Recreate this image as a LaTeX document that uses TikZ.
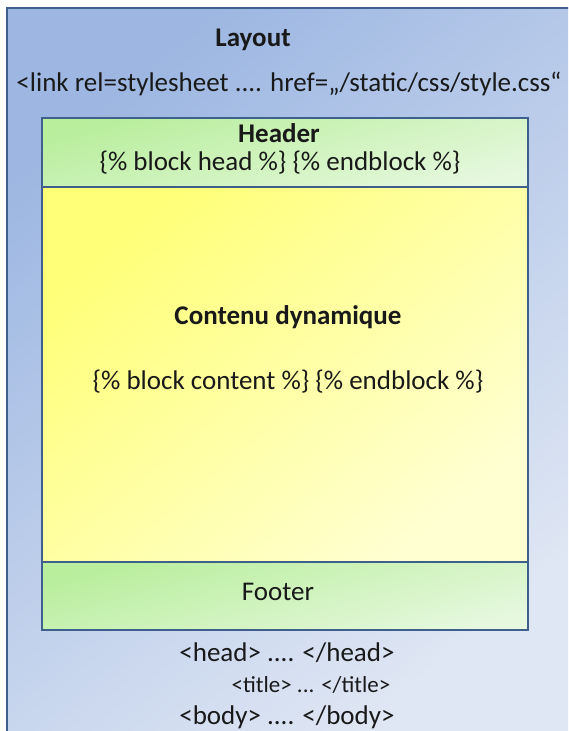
\documentclass[tikz,border=0pt]{standalone}
\usepackage{fontspec}
\setmainfont{Carlito}
\begin{document}
\begin{tikzpicture}[x=1pt,y=-1pt,
  txt/.style={font=\fontsize{27}{32}\selectfont, text=black!90},
  bold/.style={font=\fontsize{27}{32}\selectfont\bfseries, text=black!90},
  small/.style={font=\fontsize{23}{27}\selectfont, text=black!90},
  block/.style={draw=edge, line width=2.8pt, minimum width=486pt, inner sep=0pt}]
\useasboundingbox (0,0) rectangle (568,731);
\definecolor{outerA}{HTML}{9DB7E2}
\definecolor{outerB}{HTML}{E0E7F4}
\definecolor{edge}{HTML}{3F5F8C}
\definecolor{greenA}{HTML}{B8EE9C}
\definecolor{greenB}{HTML}{E6F8DE}
\definecolor{yellowA}{HTML}{FFFF78}
\definecolor{yellowB}{HTML}{FFFFD2}
% outer layout frame (runs off the right and bottom edges)
\begin{scope}
\clip (0,0) rectangle (568,731);
\path[top color=outerA, bottom color=outerB, shading angle=40]
  (7,8) rectangle (575,740);
\draw[edge, line width=2pt] (7,740) -- (7,8) -- (575,8);
\end{scope}
% inner blocks: gradient fills
\path[top color=greenA, bottom color=greenB, shading angle=15] (42,118) rectangle (528,187);
\path[top color=yellowA, bottom color=yellowB, shading angle=40] (42,187) rectangle (528,562);
\path[top color=greenA, bottom color=greenB, shading angle=15] (42,562) rectangle (528,630);
% inner blocks: frames
\node[block, minimum height=69pt] (header) at (285,152.5) {};
\node[block, minimum height=375pt] (content) at (285,374.5) {};
\node[block, minimum height=68pt] (footer) at (285,596) {};
% texts
\node[bold] (layout) at (253,40) {Layout};
\node[txt] (link) at (289,84) {<link rel=stylesheet .... href=„/static/css/style.css“};
\node[bold] (htitle) at (279,133) {Header};
\node[txt] (hblock) at (280,163) {\{\% block head \%\} \{\% endblock \%\}};
\node[bold] (ctitle) at (288,317) {Contenu dynamique};
\node[txt] (cblock) at (288,382) {\{\% block content \%\} \{\% endblock \%\}};
\node[txt] (ftitle) at (278,592) {Footer};
\node[txt] (head) at (287,653) {<head> .... </head>};
\node[small] (title) at (311,685) {<title> ... </title>};
\node[txt] (body) at (287,717) {<body> .... </body>};
\end{tikzpicture}
\end{document}
